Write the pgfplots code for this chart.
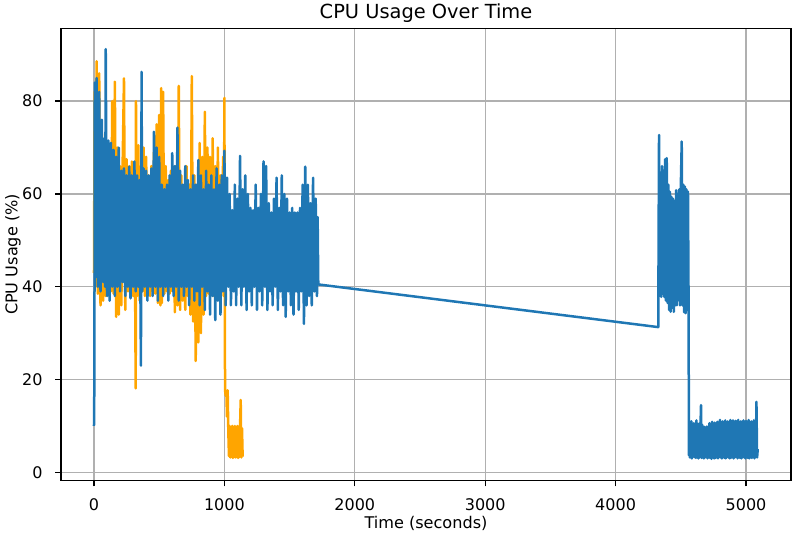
\documentclass[border=0pt]{standalone}
\usepackage{fontspec}
\setmainfont{DejaVu Sans}
\usepackage{pgfplots}
\pgfplotsset{compat=1.18}
\definecolor{mplblue}{HTML}{1F77B4}
\definecolor{mplorange}{HTML}{FFA500}
\definecolor{gridgray}{HTML}{B0B0B0}
\begin{document}
\begin{tikzpicture}
\useasboundingbox (-61pt,-59.3pt) rectangle (735pt,480.7pt);
\begin{axis}[
  anchor=south west, at={(0pt,0pt)},
  scale only axis, width=730pt, height=452.4pt,
  xmin=-253, xmax=5345, ymin=-1.8, ymax=95.7,
  xtick={0,1000,2000,3000,4000,5000}, ytick={0,20,40,60,80},
  grid=major, major grid style={gridgray, line width=1.3pt},
  axis line style={line width=1.3pt, black},
  tick align=outside, major tick length=5.6pt,
  every tick/.style={line width=1.3pt, black},
  xtick pos=bottom, ytick pos=left,
  ticklabel style={font=\fontsize{16}{19}\selectfont},
  /pgf/number format/assume math mode=true,
  /pgf/number format/1000 sep={},
  xticklabel style={anchor=base, yshift=-24.3pt},
  yticklabel style={anchor=east, inner xsep=0pt, xshift=-12.7pt},
  title={CPU Usage Over Time},
  title style={font=\fontsize{19.4}{23}\selectfont, at={(axis description cs:0.5,1)}, anchor=base, yshift=4pt},
  xlabel={Time (seconds)},
  xlabel style={font=\fontsize{16.1}{19}\selectfont, at={(axis description cs:0.5,0)}, anchor=base, yshift=-47.6pt},
  ylabel={CPU Usage (\%)},
  ylabel style={font=\fontsize{16.1}{19}\selectfont, at={(axis description cs:-0.0599,0.5)}, anchor=base},
]
% orange series
\addplot[mplorange, line width=2.5pt, line join=round] coordinates {
(0,43) (5,82) (10,40) (20,88.6) (30,38.5) (40,86) (50,36) (60,73) (70,37) (80,70) (90,38) (100,68) (110,38.5) (120,70) (130,39) (140,80) (150,38.5) (160,84.2) (170,33.5) (180,70) (190,34) (200,66) (210,36) (220,67) (230,84.9) (240,35) (250,67.5) (260,39) (270,66) (280,38.5) (290,67) (300,38) (310,64) (320,18.1) (322,80) (330,38) (340,70.5) (350,37) (360,66) (370,39) (380,70) (390,38) (400,68) (410,39) (420,64) (430,38) (440,66) (450,39) (460,69) (470,38.5) (480,75) (490,36.5) (500,77) (510,36) (515,82.8) (520,36.5) (530,82) (540,38.5) (550,66) (560,39) (570,63) (580,38.5) (590,65) (600,39) (610,64) (620,34.5) (630,66) (640,36) (650,83.3) (660,35) (670,64) (680,37) (690,60) (700,35) (710,66) (720,38) (730,62) (740,34) (750,85.4) (760,32.5) (770,64) (780,24) (790,62) (800,28) (810,71) (820,30) (830,68) (840,34) (850,77.7) (860,38) (870,70) (880,38.5) (890,68) (900,39) (910,72) (920,38) (930,66) (940,39) (950,70) (960,38.5) (970,64) (980,39) (990,68) (995,38) (1000,80.7) (1005,17.7) (1010,16.5) (1015,17.5) (1020,12) (1025,17.7) (1030,9) (1035,3.5) (1040,10) (1045,3.2) (1050,9.5) (1055,3.4) (1060,10) (1065,3.1) (1070,9) (1075,3.5) (1080,10) (1085,3.2) (1090,9.5) (1095,3.3) (1100,10) (1105,3.1) (1110,9.8) (1115,3.3) (1120,9.6) (1125,15.6) (1130,3.2) (1135,9.5) (1140,3.4)
};
% blue series
\addplot[mplblue, line width=2.5pt, line join=round] coordinates {
(0,10) (3,19.5) (6,84) (10,42) (20,85) (30,40) (40,82) (50,39) (60,76) (70,41) (80,72) (85,40) (90,91.2) (100,38) (110,71.5) (120,37) (130,71) (140,40) (150,69.5) (160,38) (170,68) (180,40) (190,70) (200,39) (210,65) (220,41) (230,65.5) (240,38) (250,64) (260,40) (270,65.9) (280,37.5) (290,64) (300,40) (310,67) (320,39) (330,64) (340,40) (350,63) (360,23) (365,86.3) (370,39) (380,65.5) (390,40) (400,65) (410,37) (420,64) (430,40) (440,65.5) (450,38) (460,73.4) (470,40) (480,70) (490,37) (500,68) (510,40) (520,62) (530,38) (540,61) (550,40) (560,62) (570,37) (580,64) (590,40) (600,68.8) (610,38) (620,66) (630,40) (640,74.3) (650,37) (660,65) (670,40) (680,62) (690,38) (700,66) (710,40) (720,63) (730,36) (740,61) (750,40) (760,64) (770,37) (780,62) (790,39) (800,67.3) (810,36) (820,64) (830,40) (840,61) (850,35) (860,65) (870,39) (880,62) (890,34) (900,64) (910,38) (920,61) (930,32.8) (940,65.5) (950,37) (960,62) (970,34) (980,64) (990,39) (1000,69.3) (1010,36) (1020,63.5) (1030,40) (1040,60) (1050,36) (1060,56.5) (1070,39) (1080,62) (1090,36) (1100,59) (1110,40) (1120,68.2) (1130,36) (1140,61) (1150,40) (1160,64) (1170,35) (1180,60) (1190,39) (1200,57) (1210,36) (1220,56.5) (1230,40) (1240,62) (1250,35) (1260,57) (1270,39) (1280,60) (1290,36) (1300,67) (1310,40) (1320,66) (1330,35) (1340,58) (1350,39) (1360,56) (1370,36) (1380,59) (1390,40) (1400,63.5) (1410,35) (1420,57) (1430,39) (1440,64) (1450,36) (1460,60) (1470,33.5) (1480,59) (1490,39) (1500,56) (1510,36) (1520,57) (1530,34) (1540,56) (1550,39) (1560,56) (1570,35) (1580,57) (1590,39) (1600,62) (1610,32) (1620,65.9) (1630,36) (1640,62) (1650,38) (1660,58) (1670,36) (1680,63.5) (1690,39) (1700,59) (1710,38) (1715,55) (1720,40.5)
(4327,31.3) (4333,72.7) (4338,40) (4344,64.4) (4350,37.8) (4356,66) (4362,38.5) (4368,65) (4374,37.8) (4380,67.5) (4386,37) (4392,67.7) (4398,36.5) (4404,62) (4410,35) (4416,60.5) (4422,34.6) (4428,59.4) (4434,35.5) (4440,59) (4446,34.6) (4452,58.5) (4458,36) (4464,60.8) (4470,36) (4476,60) (4482,37.1) (4488,61) (4494,36) (4500,61.5) (4507,71.3) (4513,36) (4519,62) (4525,34.5) (4531,61.6) (4537,34.3) (4543,61) (4549,35) (4555,60.5) (4560,35) (4562,3.7)
(4565,10.8) (4569,3.2) (4573,6.5) (4577,3.5)
(4581,11) (4585,3) (4590,6.2) (4595,3.4)
(4600,10.6) (4605,3.3) (4610,6.8) (4615,3.1)
(4620,11.2) (4625,3.5) (4630,5.9) (4635,3)
(4640,10.5) (4645,3.2) (4655,14.5) (4660,3.1)
(4665,10.2) (4669,3.4) (4673,6.3) (4677,3)
(4682,9.8) (4686,3.2) (4690,6.1) (4695,3.3)
(4700,9.9) (4705,3) (4710,6.6) (4715,3.2)
(4720,10.6) (4725,3.1) (4730,6.2) (4735,2.9)
(4740,10.9) (4745,3.3) (4750,5.9) (4755,3)
(4760,10.7) (4765,3.1) (4770,6.4) (4775,3.2)
(4780,10.9) (4785,3) (4790,6.1) (4795,3.3)
(4800,11.3) (4805,3.2) (4810,6.7) (4815,3)
(4820,11) (4825,3.3) (4830,6.2) (4835,3.1)
(4840,11.2) (4845,3) (4850,6.5) (4855,3.4)
(4860,11) (4865,3.2) (4870,6) (4875,3)
(4880,11.3) (4885,3.1) (4890,6.6) (4895,3.3)
(4900,11.2) (4905,3) (4910,6.2) (4915,3.2)
(4920,11.1) (4925,3.4) (4930,6.3) (4935,3)
(4940,11.3) (4945,3.2) (4950,6.1) (4955,3.1)
(4960,11) (4965,3) (4970,6.5) (4975,3.3)
(4980,11.2) (4985,3.2) (4990,6.2) (4995,3)
(5000,11.1) (5005,3.3) (5010,6.6) (5015,3.1)
(5020,11.3) (5025,3) (5030,6.3) (5035,3.2)
(5040,11) (5045,3.1) (5050,6.1) (5055,3.3)
(5060,11.2) (5065,3) (5070,6.4) (5075,3.4)
(5080,15.2) (5085,3.2) (5090,5)
};
\end{axis}
\end{tikzpicture}
\end{document}
